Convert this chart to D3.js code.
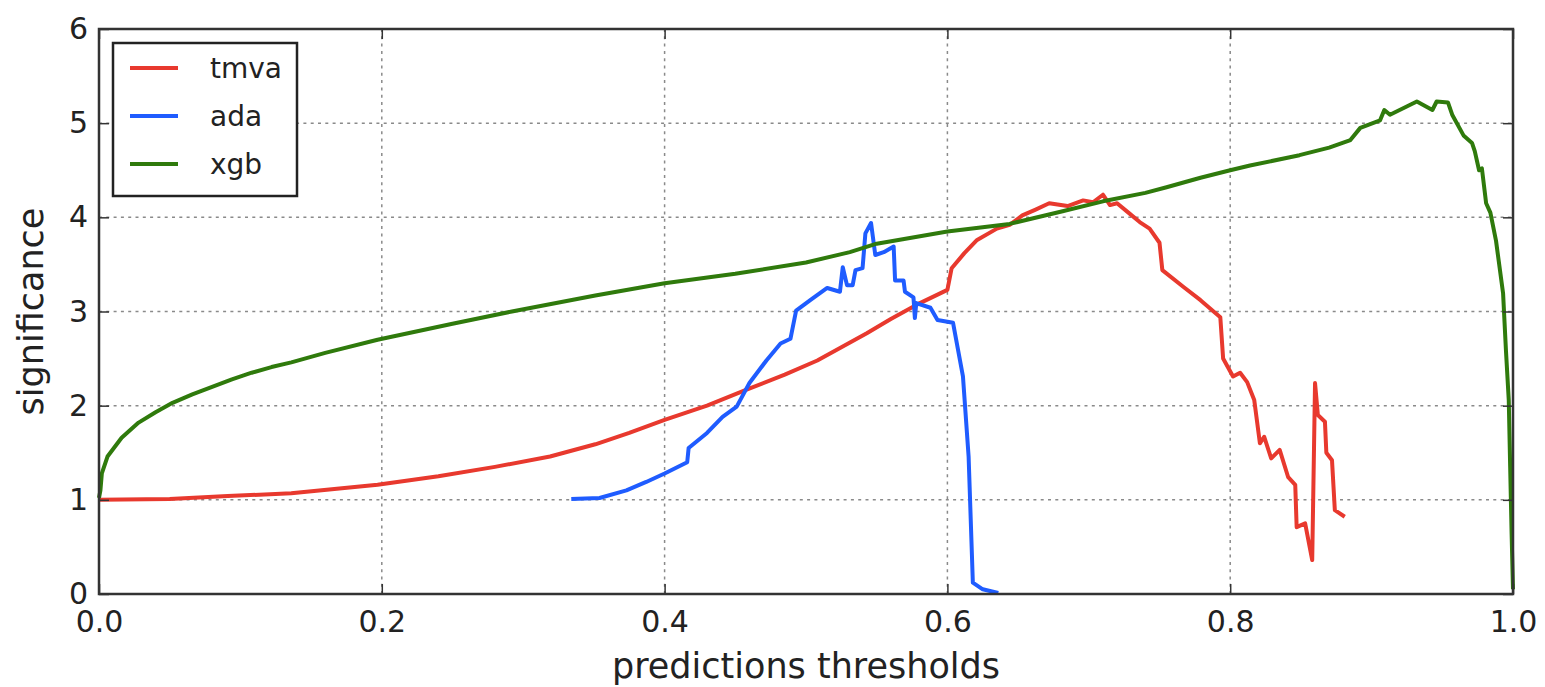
<!DOCTYPE html>
<html>
<head>
<meta charset="utf-8">
<script src="https://cdn.jsdelivr.net/npm/d3@7"></script>
<style>
  body { margin: 0; background: #fff; }
  svg { display: block; font-family: "DejaVu Sans", sans-serif; }
</style>
</head>
<body>
<div id="wrapper"></div>
<script>
// series: [threshold, significance]
const tmva = [
  [0.000, 1.00], [0.050, 1.01], [0.091, 1.04], [0.136, 1.07], [0.170, 1.12],
  [0.197, 1.16], [0.240, 1.25], [0.280, 1.35], [0.319, 1.46], [0.351, 1.59],
  [0.375, 1.71], [0.400, 1.85], [0.430, 2.00], [0.458, 2.17], [0.485, 2.33],
  [0.508, 2.48], [0.543, 2.77], [0.560, 2.92], [0.578, 3.07], [0.600, 3.23],
  [0.603, 3.46], [0.612, 3.62], [0.621, 3.76], [0.635, 3.88], [0.644, 3.92],
  [0.653, 4.02], [0.662, 4.08], [0.672, 4.15], [0.685, 4.12], [0.696, 4.18],
  [0.703, 4.16], [0.710, 4.24], [0.715, 4.13], [0.720, 4.15], [0.728, 4.05],
  [0.736, 3.95], [0.743, 3.88], [0.750, 3.73], [0.752, 3.44], [0.767, 3.26],
  [0.779, 3.12], [0.793, 2.94], [0.795, 2.50], [0.802, 2.31], [0.807, 2.35],
  [0.812, 2.25], [0.817, 2.06], [0.821, 1.60], [0.824, 1.67], [0.829, 1.44],
  [0.835, 1.53], [0.841, 1.24], [0.846, 1.16], [0.847, 0.71], [0.853, 0.75],
  [0.858, 0.36], [0.860, 2.24], [0.862, 1.90], [0.867, 1.83], [0.868, 1.50],
  [0.872, 1.42], [0.874, 0.89], [0.881, 0.82],
]
const ada = [
  [0.334, 1.01], [0.354, 1.02], [0.373, 1.10], [0.387, 1.19], [0.400, 1.28],
  [0.416, 1.40], [0.417, 1.55], [0.430, 1.71], [0.441, 1.88], [0.451, 1.99],
  [0.460, 2.24], [0.472, 2.48], [0.482, 2.66], [0.489, 2.71], [0.493, 3.01],
  [0.503, 3.12], [0.515, 3.25], [0.524, 3.21], [0.526, 3.47], [0.529, 3.28],
  [0.533, 3.28], [0.535, 3.44], [0.540, 3.46], [0.542, 3.83], [0.546, 3.94],
  [0.549, 3.60], [0.555, 3.63], [0.562, 3.69], [0.563, 3.33], [0.569, 3.33],
  [0.570, 3.21], [0.576, 3.15], [0.577, 2.93], [0.578, 3.09], [0.588, 3.04],
  [0.593, 2.91], [0.604, 2.88], [0.611, 2.31], [0.615, 1.46], [0.618, 0.12],
  [0.625, 0.05], [0.636, 0.01],
]
const xgb = [
  [0.000, 1.02], [0.001, 1.10], [0.002, 1.28], [0.006, 1.46], [0.016, 1.66],
  [0.028, 1.82], [0.040, 1.93], [0.052, 2.03], [0.066, 2.12], [0.080, 2.20],
  [0.094, 2.28], [0.108, 2.35], [0.122, 2.41], [0.136, 2.46], [0.160, 2.56],
  [0.197, 2.70], [0.250, 2.87], [0.292, 3.00], [0.351, 3.17], [0.400, 3.30],
  [0.450, 3.40], [0.500, 3.52], [0.531, 3.63], [0.550, 3.72], [0.600, 3.85],
  [0.644, 3.93], [0.680, 4.06], [0.710, 4.17], [0.740, 4.26], [0.755, 4.32],
  [0.779, 4.42], [0.800, 4.50], [0.814, 4.55], [0.849, 4.66], [0.870, 4.74],
  [0.885, 4.82], [0.892, 4.95], [0.906, 5.03], [0.909, 5.14], [0.913, 5.09],
  [0.932, 5.23], [0.943, 5.14], [0.946, 5.23], [0.954, 5.22], [0.957, 5.09],
  [0.965, 4.87], [0.971, 4.79], [0.973, 4.70], [0.976, 4.50], [0.978, 4.52],
  [0.981, 4.15], [0.984, 4.05], [0.988, 3.75], [0.993, 3.19], [0.995, 2.59],
  [0.997, 2.06], [0.998, 1.35], [0.999, 0.65], [1.000, 0.05],
]
const seriesNames = ["tmva", "ada", "xgb"]
const seriesColors = ["#e8392e", "#1f5cff", "#2f7a0c"]
const xTicks = [0, 0.2, 0.4, 0.6, 0.8, 1.0]
const yTicks = [0, 1, 2, 3, 4, 5, 6]

function drawChart() {
  const dataset = [tmva, ada, xgb]
  const xAccessor = d => d[0]
  const yAccessor = d => d[1]

  let dimensions = {
    width: 1545,
    height: 687,
    margin: {
      top: 29,
      right: 32,
      bottom: 93,
      left: 99,
    },
  }
  dimensions.boundedWidth = dimensions.width - dimensions.margin.left - dimensions.margin.right
  dimensions.boundedHeight = dimensions.height - dimensions.margin.top - dimensions.margin.bottom

  const wrapper = d3.select("#wrapper")
    .append("svg")
      .attr("width", dimensions.width)
      .attr("height", dimensions.height)

  const bounds = wrapper.append("g")
      .attr("transform", `translate(${dimensions.margin.left}, ${dimensions.margin.top})`)

  // scales
  const xScale = d3.scaleLinear()
    .domain([0, 1])
    .range([0, dimensions.boundedWidth])

  const yScale = d3.scaleLinear()
    .domain([0, 6])
    .range([dimensions.boundedHeight, 0])

  // dotted grid
  const grid = bounds.append("g")
      .attr("stroke", "#8a8a8a")
      .attr("stroke-width", 1.5)
      .attr("stroke-dasharray", "3,4.3")
  grid.selectAll(".vgrid")
    .data(xTicks.slice(1, -1))
    .join("line")
      .attr("x1", d => xScale(d))
      .attr("x2", d => xScale(d))
      .attr("y1", 0)
      .attr("y2", dimensions.boundedHeight)
  grid.selectAll(".hgrid")
    .data(yTicks.slice(1, -1))
    .join("line")
      .attr("y1", d => yScale(d))
      .attr("y2", d => yScale(d))
      .attr("x1", 0)
      .attr("x2", dimensions.boundedWidth)

  // lines
  const lineGenerator = d3.line()
    .x(d => xScale(xAccessor(d)))
    .y(d => yScale(yAccessor(d)))

  bounds.selectAll(".series")
    .data(dataset)
    .join("path")
      .attr("class", "series")
      .attr("fill", "none")
      .attr("stroke", (d, i) => seriesColors[i])
      .attr("stroke-width", 4)
      .attr("stroke-linejoin", "round")
      .attr("d", lineGenerator)

  // axes, ticks pointing inward on all four sides
  const xAxisGenerator = d3.axisBottom(xScale)
    .tickValues(xTicks)
    .tickFormat(d3.format(".1f"))
    .tickSizeInner(-10)
    .tickSizeOuter(0)
    .tickPadding(17)
  const xAxis = bounds.append("g")
      .attr("transform", `translate(0, ${dimensions.boundedHeight})`)
      .call(xAxisGenerator)

  const yAxisGenerator = d3.axisLeft(yScale)
    .tickValues(yTicks)
    .tickFormat(d3.format("d"))
    .tickSizeInner(-10)
    .tickSizeOuter(0)
    .tickPadding(11)
  const yAxis = bounds.append("g")
      .call(yAxisGenerator)

  const topAxis = bounds.append("g")
      .call(d3.axisTop(xScale).tickValues(xTicks).tickSizeInner(-10).tickSizeOuter(0).tickFormat(""))
  const rightAxis = bounds.append("g")
      .attr("transform", `translate(${dimensions.boundedWidth}, 0)`)
      .call(d3.axisRight(yScale).tickValues(yTicks).tickSizeInner(-10).tickSizeOuter(0).tickFormat(""))

  ;[xAxis, yAxis, topAxis, rightAxis].forEach(axis => {
    axis.select(".domain").remove()
    axis.selectAll(".tick line").attr("stroke", "#333").attr("stroke-width", 1.5)
    axis.selectAll(".tick text")
        .attr("fill", "#222")
        .style("font-size", "30px")
        .style("font-family", "'DejaVu Sans', sans-serif")
  })

  // frame
  bounds.append("rect")
      .attr("width", dimensions.boundedWidth)
      .attr("height", dimensions.boundedHeight)
      .attr("fill", "none")
      .attr("stroke", "#333")
      .attr("stroke-width", 2.5)

  // axis labels
  wrapper.append("text")
      .attr("x", dimensions.margin.left + dimensions.boundedWidth / 2)
      .attr("y", 678)
      .attr("text-anchor", "middle")
      .attr("fill", "#222")
      .style("font-size", "35px")
      .text("predictions thresholds")

  wrapper.append("text")
      .attr("transform", `translate(43, ${dimensions.margin.top + dimensions.boundedHeight / 2}) rotate(-90)`)
      .attr("text-anchor", "middle")
      .attr("fill", "#222")
      .style("font-size", "35px")
      .text("significance")

  // legend
  const legend = bounds.append("g")
      .attr("transform", "translate(14, 14)")
  legend.append("rect")
      .attr("width", 184)
      .attr("height", 153)
      .attr("fill", "#fff")
      .attr("stroke", "#222")
      .attr("stroke-width", 2.5)
  const legendItems = legend.selectAll(".legend-item")
    .data(seriesNames)
    .join("g")
      .attr("transform", (d, i) => `translate(0, ${25 + i * 48})`)
  legendItems.append("line")
      .attr("x1", 17)
      .attr("x2", 65)
      .attr("stroke", (d, i) => seriesColors[i])
      .attr("stroke-width", 4)
  legendItems.append("text")
      .attr("x", 97)
      .attr("dy", "0.35em")
      .attr("fill", "#222")
      .style("font-size", "28px")
      .text(d => d)
}
drawChart()
</script>
</body>
</html>
